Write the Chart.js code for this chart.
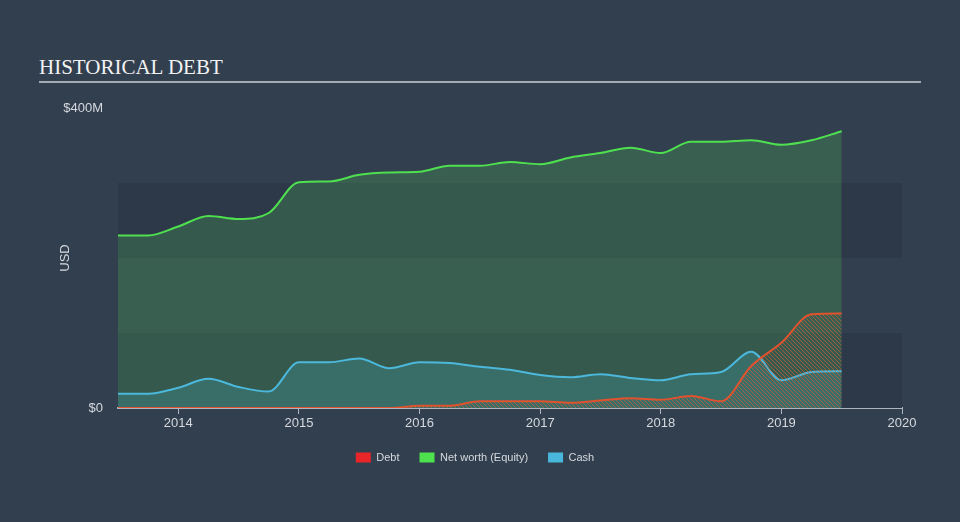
<!DOCTYPE html>
<html>
<head>
<meta charset="utf-8">
<script src="https://cdn.jsdelivr.net/npm/chart.js@4/dist/chart.umd.min.js"></script>
<style>
  body { margin: 0; background: #323f4f; }
  #wrap { position: relative; width: 960px; height: 522px; }
  #title { position: absolute; left: 39px; top: 55px; font-family: "Liberation Serif", serif; font-size: 21px; color: #f2f2f2; }
  #rule { position: absolute; left: 39px; top: 81px; width: 882px; height: 2px; background: #a3abb5; }
  canvas { position: absolute; left: 0; top: 0; }
</style>
</head>
<body>
<div id="wrap">
  <div id="title">HISTORICAL DEBT</div>
  <div id="rule"></div>
  <canvas id="chart" width="960" height="522"></canvas>
</div>
<script>
// quarterly dates, values in $M
const dates = [2013.5, 2013.75, 2014, 2014.25, 2014.5, 2014.75, 2015, 2015.25, 2015.5, 2015.75,
  2016, 2016.25, 2016.5, 2016.75, 2017, 2017.25, 2017.5, 2017.75, 2018, 2018.25, 2018.5, 2018.75,
  2019, 2019.25, 2019.5];
const netWorth = [230, 230, 242, 256, 252, 260, 301, 302, 311, 314, 315, 323, 323, 328, 325, 334,
  340, 347, 340, 355, 355, 357, 351, 357, 369];
const cash = [19, 19, 27, 39, 28, 22, 61, 61, 66, 53, 61, 60, 55, 51, 44, 41, 45, 40, 37, 45, 48,
  75, 37, 48, 49];
const debt = [0, 0, 0, 0, 0, 0, 0, 0, 0, 0, 3, 3, 9, 9, 9, 7, 10, 13, 11, 16, 9, 56, 87, 125, 126];
const yearTicks = [2014, 2015, 2016, 2017, 2018, 2019, 2020];
const yTicks = [0, 400];
const bandEdges = [0, 100, 200, 300];

const pts = arr => arr.map((v, i) => ({ x: dates[i], y: v }));

function hatch() {
  const c = document.createElement('canvas');
  c.width = 4; c.height = 4;
  const g = c.getContext('2d');
  g.strokeStyle = 'rgba(225,95,55,0.6)';
  g.lineWidth = 1;
  g.beginPath();
  g.moveTo(0, 0); g.lineTo(4, 4);
  g.moveTo(-1, 3); g.lineTo(1, 5);
  g.moveTo(3, -1); g.lineTo(5, 1);
  g.stroke();
  return g.createPattern(c, 'repeat');
}

// alternating background bands inside the plot area
const bands = {
  id: 'bands',
  beforeDatasetsDraw(chart) {
    const { ctx, chartArea, scales } = chart;
    const y = scales.y;
    ctx.save();
    ctx.fillStyle = '#2d3949';
    for (let i = 0; i < bandEdges.length - 1; i += 2) {
      const top = y.getPixelForValue(bandEdges[i + 1]);
      const bot = y.getPixelForValue(bandEdges[i]);
      ctx.fillRect(chartArea.left, top, chartArea.right - chartArea.left, bot - top);
    }
    ctx.restore();
  }
};

const font = { family: 'Liberation Sans, Arial', size: 13 };

new Chart(document.getElementById('chart'), {
  type: 'line',
  data: {
    datasets: [
      {
        label: 'Debt',
        data: pts(debt),
        borderColor: '#e0532e',
        backgroundColor: hatch(),
        fill: 'origin',
        borderWidth: 2,
        pointRadius: 0,
        cubicInterpolationMode: 'monotone',
        order: 1
      },
      {
        label: 'Net worth (Equity)',
        data: pts(netWorth),
        borderColor: '#4fe04f',
        backgroundColor: 'rgba(80,210,90,0.22)',
        fill: 'origin',
        borderWidth: 2,
        pointRadius: 0,
        cubicInterpolationMode: 'monotone',
        order: 3
      },
      {
        label: 'Cash',
        data: pts(cash),
        borderColor: '#4cb8dc',
        backgroundColor: 'rgba(75,185,215,0.2)',
        fill: 'origin',
        borderWidth: 2,
        pointRadius: 0,
        cubicInterpolationMode: 'monotone',
        order: 2
      }
    ]
  },
  options: {
    responsive: false,
    animation: false,
    layout: { padding: { top: 108, right: 10, bottom: 49, left: 0 } },
    scales: {
      x: {
        type: 'linear',
        min: 2013.5,
        max: 2020,
        afterBuildTicks: axis => { axis.ticks = yearTicks.map(v => ({ value: v })); },
        afterFit: axis => { axis.height = 24; },
        ticks: {
          color: '#d5d9de',
          font: font,
          padding: 2,
          maxRotation: 0,
          callback: v => String(v)
        },
        grid: { drawOnChartArea: false, color: '#adb5c0', tickLength: 6 },
        border: { display: true, color: '#adb5c0', width: 2 }
      },
      y: {
        min: 0,
        max: 400,
        afterBuildTicks: axis => { axis.ticks = yTicks.map(v => ({ value: v })); },
        afterFit: axis => { axis.width = 118; },
        ticks: {
          color: '#d5d9de',
          font: font,
          padding: 7,
          callback: v => v === 0 ? '$0' : '$' + v + 'M'
        },
        grid: { display: false },
        border: { display: false },
        title: {
          display: true,
          text: 'USD',
          color: '#d5d9de',
          font: { family: 'Liberation Sans, Arial', size: 13 },
          padding: { top: 58, bottom: 0 }
        }
      },
      y2: {
        position: 'right',
        min: 0,
        max: 400,
        afterFit: axis => { axis.width = 48; },
        ticks: { display: false },
        grid: { display: false },
        border: { display: false }
      }
    },
    plugins: {
      legend: {
        position: 'bottom',
        labels: {
          color: '#d5d9de',
          font: { family: 'Liberation Sans, Arial', size: 11 },
          boxWidth: 15,
          boxHeight: 10,
          padding: 20,
          generateLabels: chart => chart.data.datasets.map((d, i) => ({
            text: d.label,
            fillStyle: ['#e8262a', '#4de24d', '#49b6db'][i],
            strokeStyle: 'rgba(0,0,0,0)',
            lineWidth: 0,
            fontColor: '#d5d9de',
            datasetIndex: i
          }))
        }
      },
      tooltip: { enabled: false }
    }
  },
  plugins: [bands]
});
</script>
</body>
</html>
